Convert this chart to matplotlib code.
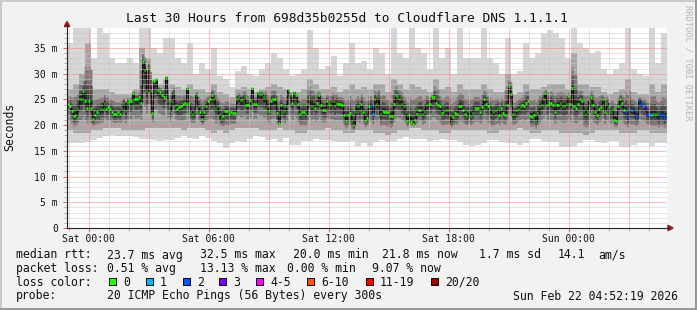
import numpy as np
import matplotlib
matplotlib.use("Agg")
import matplotlib.pyplot as plt
from matplotlib.patches import Rectangle, Polygon
from matplotlib.lines import Line2D

plt.rcParams['font.family'] = ['DejaVu Sans Mono']

W, H = 697, 310
title = "Last 30 Hours from 698d35b0255d to Cloudflare DNS 1.1.1.1"

# time axis in hours relative to Sat 00:00
t_start, t_end = -1.08, 28.92

# median RTT (ms), every ~5 minutes
median_ms = [
    24.1, 23.8, 22.7, 21.8, 22.0, 23.4, 25.0, 25.1, 26.7, 24.7, 23.4, 24.7, 23.3, 21.2, 22.0, 22.5, 22.4, 23.1, 23.1, 24.4,
    23.1, 23.5, 23.1, 22.6, 22.1, 22.1, 22.5, 22.1, 23.3, 24.4, 22.7, 24.4, 24.6, 24.7, 26.3, 25.0, 25.1, 25.5, 24.4, 32.4,
    30.7, 26.7, 31.2, 26.7, 22.4, 28.5, 29.0, 26.9, 26.4, 25.9, 25.5, 29.3, 24.7, 22.7, 24.7,
    26.3, 23.9, 23.1, 23.5, 23.7, 24.2, 24.3, 27.2, 24.3, 22.5, 22.1, 22.5, 25.9, 23.7, 22.5, 21.1, 22.5, 23.8, 24.6, 25.0,
    25.8, 25.1, 23.3, 23.7, 22.1, 21.3, 21.8, 22.8, 22.7, 22.2, 22.5, 22.4, 22.4, 25.1, 25.5, 24.8, 24.8, 25.5, 23.9, 23.9,
    24.8, 27.3, 24.2, 24.2, 26.5, 26.0, 26.1, 25.5, 25.5, 23.7, 22.7, 24.7,
    25.0, 25.0, 22.4, 20.5, 23.9, 22.6, 22.7, 23.8, 26.8, 25.9, 24.3, 26.5, 25.8, 24.1, 22.1, 22.5, 22.6, 22.2, 24.2, 25.4,
    23.8, 24.7, 23.4, 24.4, 25.8, 23.9, 23.0, 23.0, 24.6, 24.1, 23.9, 24.6, 23.8, 24.3, 24.2, 24.1, 23.9, 22.0, 20.9, 22.0,
    22.4, 20.7, 20.0, 22.6, 23.7, 22.7, 24.2, 22.5, 20.8, 21.4, 23.7, 23.8, 22.2, 25.1,
    24.2, 25.4, 22.1, 22.7, 22.6, 22.6, 22.6, 21.8, 21.7, 24.2, 25.8, 25.4, 25.0, 24.2, 23.7, 22.6, 20.8, 22.0, 20.7, 20.3,
    21.0, 22.2, 23.0, 23.0, 22.1, 22.6, 23.9, 24.1, 24.2, 25.4, 25.5, 24.4, 23.9, 23.7, 22.4, 22.6, 22.9, 22.9, 22.0, 20.7,
    21.6, 22.4, 22.1, 23.7, 23.7, 23.0, 22.2, 21.7, 22.7, 21.8, 22.4,
    23.4, 23.4, 23.4, 22.5, 23.5, 25.1, 24.2, 23.7, 23.1, 22.0, 22.5, 22.9, 23.4, 22.0, 23.4, 22.4, 22.0, 23.9, 27.6, 26.1,
    22.1, 22.1, 22.9, 23.1, 23.5, 23.9, 23.7, 24.4, 24.6, 21.7, 21.6, 22.0, 20.8, 22.4, 23.7, 23.9, 25.1, 26.3, 23.9, 24.3,
    24.4, 23.9, 22.5, 23.9, 23.9, 24.4, 23.8, 23.8, 24.2, 25.6, 24.2, 27.2,
    23.7, 23.4, 24.2, 25.0, 24.7, 22.7, 22.2, 22.6, 24.7, 25.4, 23.9, 22.6, 22.0, 23.1, 23.5, 25.1, 22.5, 24.3, 23.5, 22.5,
    23.1, 21.0, 20.8, 23.7, 25.1, 24.4, 23.0, 22.6, 21.6, 23.1, 23.0, 22.9, 22.1, 21.8, 24.8, 24.2, 23.7, 23.5, 22.2, 22.1,
    22.0, 22.2, 22.2, 22.1, 21.4, 22.2, 22.0, 21.4, 21.7,
]

# lost pings (out of 20) for the few median points that were not green
loss_events = {16: 1, 158: 2, 159: 1, 291: 2, 292: 2, 293: 1, 294: 1, 295: 2, 296: 2, 297: 2, 298: 2,
               299: 2, 300: 1, 301: 3, 302: 3, 303: 1, 304: 1, 308: 2, 309: 2, 310: 2, 311: 2, 312: 2}

# smoke envelopes (ms), 100 bins of 18 minutes
smoke_top = [
    36, 39, 39, 39, 33, 39, 38, 33, 32, 32, 33, 32, 39, 39, 35, 34, 37,
    37, 33, 32, 36, 30, 32, 31, 35, 29.5, 29, 27.5, 30.5, 31.5, 30, 29.5, 31, 32,
    34, 33, 31, 29.5, 30, 31, 38.5, 35, 31, 31.5, 33.5, 29.5, 32, 36, 32, 32.5, 31,
    35, 34, 30, 39, 34, 33, 39, 35, 34, 31, 39, 33, 35, 30, 39, 33, 33,
    33, 39, 33, 32, 30, 37, 30, 30.5, 36, 33, 34, 38, 38.5, 38, 37, 33, 39,
    36, 35, 34, 34.5, 31, 30, 31, 32, 39, 31, 30, 29.5, 39, 32, 38,
]
smoke_hi = [
    27, 28, 30, 36, 27, 27, 27, 26.5, 26, 26, 26, 27, 35, 33, 29, 28, 29,
    28, 27.5, 27, 28, 27, 27, 26.5, 28, 26.5, 26, 25.5, 27, 27.5, 27, 26.5, 27, 27.5,
    28, 27.5, 27, 26.5, 26.5, 27, 29, 28, 27, 27, 27.5, 26.5, 27, 28, 27, 27.5, 27,
    28, 28, 26.5, 29, 28, 27, 28, 27.5, 27, 26.5, 29, 27, 27.5, 26.5, 28, 27, 27,
    27, 28, 27, 26.5, 26.5, 30, 26, 26.5, 28, 27, 27, 27.5, 28, 28, 28, 27, 34,
    28, 28, 27.5, 27.5, 26.5, 26, 26.5, 27, 29, 26.5, 26, 26, 28, 26.5, 28,
]
smoke_lo = [
    19, 18.5, 18.5, 18.5, 19, 19, 19.5, 19.5, 19.5, 19, 19, 19, 19, 19.5, 19.5, 19.5, 19.5,
    19.5, 19.5, 19, 19.5, 19.5, 19.5, 19, 18.5, 19, 18.5, 19, 19.5, 19.5, 19.5, 19.5, 19, 19,
    19, 19.5, 19, 19, 18.5, 18.5, 19, 19, 19, 19.5, 19, 19, 18.5, 18.5, 19, 19, 19,
    18.5, 18.5, 18, 18.5, 19, 19, 19.5, 19.5, 19, 19, 19, 18.5, 18.5, 19, 19, 19, 19,
    19, 19, 18.5, 18.5, 19, 19, 19, 19.5, 19, 18.5, 18.5, 19, 19, 19, 18.5, 18.5, 18.5,
    18.5, 18, 18.5, 19, 19, 19, 19, 18.5, 18.5, 18.5, 19, 19, 18.5, 18.5, 18.5,
]
smoke_bot = [
    16.5, 16.5, 16.5, 16.8, 17.1, 17.5, 17.9, 18.0, 17.9, 17.9, 17.9, 17.7, 17.3, 17.3, 17.1, 17.0, 17.1,
    17.1, 17.5, 17.9, 17.5, 17.3, 17.9, 17.5, 17.0, 16.5, 15.5, 16.5, 17.0, 16.8, 17.4, 17.9, 17.7, 17.1,
    17.4, 16.8, 17.5, 16.1, 16.2, 17.0, 17.0, 17.4, 17.1, 17.1, 16.9, 16.8, 16.8, 16.9, 15.9, 16.5, 15.9,
    16.8, 17.2, 16.8, 16.9, 17.4, 17.6, 17.4, 17.3, 17.4, 17.0, 17.1, 17.4, 17.1, 17.1, 16.8, 16.2, 16.0,
    16.1, 16.5, 17.1, 17.1, 16.8, 16.5, 16.6, 16.2, 16.6, 17.4, 17.4, 17.0, 16.8, 16.8, 15.8, 15.8, 16.0,
    16.5, 17.2, 17.2, 16.8, 16.5, 16.9, 17.0, 15.8, 15.7, 16.2, 16.6, 16.5, 16.0, 16.5, 16.5,
]

ytick_vals = [0, 5, 10, 15, 20, 25, 30, 35]
ytick_labels = ["0", "5 m", "10 m", "15 m", "20 m", "25 m", "30 m", "35 m"]
xtick_hours = [0, 6, 12, 18, 24]
xtick_labels = ["Sat 00:00", "Sat 06:00", "Sat 12:00", "Sat 18:00", "Sun 00:00"]

loss_colors = ["#26ff00", "#00b8ff", "#0059ff", "#7e00ff", "#ff00ff", "#ff5500", "#ff0000", "#a10000"]
loss_labels = ["0", "1", "2", "3", "4-5", "6-10", "11-19", "20/20"]

rtt_stats = ["23.7 ms avg", "32.5 ms max", "20.0 ms min", "21.8 ms now", "1.7 ms sd", "14.1", "am/s"]
loss_stats = ["0.51 % avg", "13.13 % max", "0.00 % min", "9.07 % now"]
probe_text = "20 ICMP Echo Pings (56 Bytes) every 300s"
stamp = "Sun Feb 22 04:52:19 2026"


def loss_color(n):
    if n <= 3:
        return loss_colors[n]
    if n <= 5:
        return loss_colors[4]
    if n <= 10:
        return loss_colors[5]
    if n <= 19:
        return loss_colors[6]
    return loss_colors[7]


def fx(px):
    return px / W


def fy(py):
    return 1 - py / H


fig = plt.figure(figsize=(W / 100, H / 100), dpi=100, facecolor="#f2f2f2")
ax = fig.add_axes([fx(67), 82 / H, 600 / W, 200 / H])
ax.set_facecolor("white")
ymax = 200 / 5.143
ax.set_xlim(t_start, t_end)
ax.set_ylim(0, ymax)

# ---- smoke ----
top = np.array(smoke_top, float)
hi = np.array(smoke_hi, float)
lo = np.array(smoke_lo, float)
bot = np.array(smoke_bot, float)
nb = len(top)
bw = (t_end - t_start) / nb
edges = t_start + bw * np.arange(nb + 1)


def stepfill(a, b, color, z):
    ax.fill_between(edges, np.append(a, a[-1]), np.append(b, b[-1]), step="post",
                    color=color, lw=0, zorder=z)


stepfill(bot, top, "#d6d6d6", 1.0)
stepfill(lo, hi, "#a6a6a6", 1.1)

med = np.array(median_ms, float)
n = len(med)
dt = (t_end - t_start) / n
t_med = t_start + dt * (np.arange(n) + 0.5)
bidx = np.minimum(((t_med - t_start) / bw).astype(int), nb - 1)
up = np.maximum(hi[bidx] - med, 0)
dn = np.maximum(med - lo[bidx], 0)
for f, c, z in [(0.6, "#7a7a7a", 1.2), (0.35, "#4d4d4d", 1.3), (0.15, "#262626", 1.4)]:
    ax.fill_between(t_med, med - f * dn, med + f * up, step="mid", color=c, lw=0, zorder=z)

ax.step(t_med, med, where="mid", color="#111111", lw=0.7, zorder=1.6)

# ---- grid (drawn over the smoke, like rrdtool) ----
for v in range(1, int(ymax) + 1):
    major = v % 5 == 0
    ax.axhline(v, color="#ff8080" if major else "#c8c8c8", lw=0.72,
               ls=(0, (1, 1)), zorder=2.5)
for h in range(-1, 29):
    major = h % 3 == 0
    ax.axvline(h, color="#ff8080" if major else "#c8c8c8", lw=0.72,
               ls=(0, (1, 1)), zorder=2.5)

# ---- median coloured by loss ----
cols = [loss_color(loss_events.get(i, 0)) for i in range(n)]
ax.hlines(med, t_med - 0.42 * dt, t_med + 0.42 * dt, colors=cols, lw=1.9, zorder=3.5)

# ---- ticks ----
for s in ax.spines.values():
    s.set_visible(False)
ax.set_yticks(ytick_vals)
ax.set_yticklabels(ytick_labels)
ax.set_yticks(np.arange(0, ymax, 1), minor=True)
ax.set_xticks(xtick_hours)
ax.set_xticklabels(xtick_labels)
ax.set_xticks(np.arange(-1, 29, 1), minor=True)
ax.tick_params(axis="both", which="major", length=3, width=0.72, color="#e06060",
               labelsize=7.05, labelcolor="#111111")
ax.tick_params(axis="both", which="minor", length=2, width=0.72, color="#b0b0b0")
ax.tick_params(axis="y", which="major", pad=3.5)
ax.tick_params(axis="x", which="major", pad=1.5)

# ---- axis lines and arrows ----
axis_col = "#222222"
arrow_col = "#8e1b1b"
fig.add_artist(Line2D([fx(67), fx(67)], [fy(228), fy(25)], color=axis_col, lw=0.8,
                      transform=fig.transFigure))
fig.add_artist(Line2D([fx(67), fx(669)], [fy(228), fy(228)], color=axis_col, lw=0.8,
                      transform=fig.transFigure))
fig.add_artist(Polygon([(fx(64.3), fy(26.5)), (fx(69.7), fy(26.5)), (fx(67), fy(21.5))],
                       closed=True, color=arrow_col, transform=fig.transFigure))
fig.add_artist(Polygon([(fx(668), fy(225.3)), (fx(668), fy(230.7)), (fx(673), fy(228))],
                       closed=True, color=arrow_col, transform=fig.transFigure))

# ---- frame shading ----
fig.add_artist(Rectangle((0, 1 - 2 / H), 1, 2 / H, color="#cbcbcb", transform=fig.transFigure, lw=0))
fig.add_artist(Rectangle((0, 0), 2 / W, 1, color="#cbcbcb", transform=fig.transFigure, lw=0))
fig.add_artist(Rectangle((0, 0), 1, 2 / H, color="#999999", transform=fig.transFigure, lw=0))
fig.add_artist(Rectangle((1 - 2 / W, 0), 2 / W, 1, color="#999999", transform=fig.transFigure, lw=0))

# ---- texts ----
fig.text(fx(347), fy(19), title, ha="center", va="center", size=9.3, color="#111111")
fig.text(fx(10), fy(127), "Seconds", rotation=90, ha="center", va="center", size=8.3, color="#111111")
fig.text(fx(688), fy(5), "RRDTOOL / TOBI OETIKER", rotation=270, ha="center", va="top",
         size=6.2, color="#b5b5b5")

fs = 8.3
tc = "#111111"
fig.text(fx(16), fy(255), "median rtt:", ha="left", va="center", size=fs, color=tc)
for s, x in zip(rtt_stats, [107, 200, 293, 382, 479, 558, 598]):
    fig.text(fx(x), fy(255), s, ha="left", va="center", size=fs, color=tc)

fig.text(fx(16), fy(268.5), "packet loss:", ha="left", va="center", size=fs, color=tc)
for s, x in zip(loss_stats, [107, 200, 287, 372]):
    fig.text(fx(x), fy(268.5), s, ha="left", va="center", size=fs, color=tc)

fig.text(fx(16), fy(282), "loss color:", ha="left", va="center", size=fs, color=tc)
for c, lab, x in zip(loss_colors, loss_labels, [109, 146, 183, 219, 256, 307, 366, 431]):
    fig.add_artist(Rectangle((fx(x), fy(285)), 7 / W, 7 / H, facecolor=c, edgecolor="black",
                             lw=0.7, transform=fig.transFigure))
    fig.text(fx(x + 14), fy(282), lab, ha="left", va="center", size=fs, color=tc)

fig.text(fx(16), fy(296), "probe:", ha="left", va="center", size=fs, color=tc)
fig.text(fx(107), fy(296), probe_text, ha="left", va="center", size=fs, color=tc)
fig.text(fx(513), fy(296), stamp, ha="left", va="center", size=fs, color=tc)

fig.savefig("out.png", dpi=100, facecolor=fig.get_facecolor())
